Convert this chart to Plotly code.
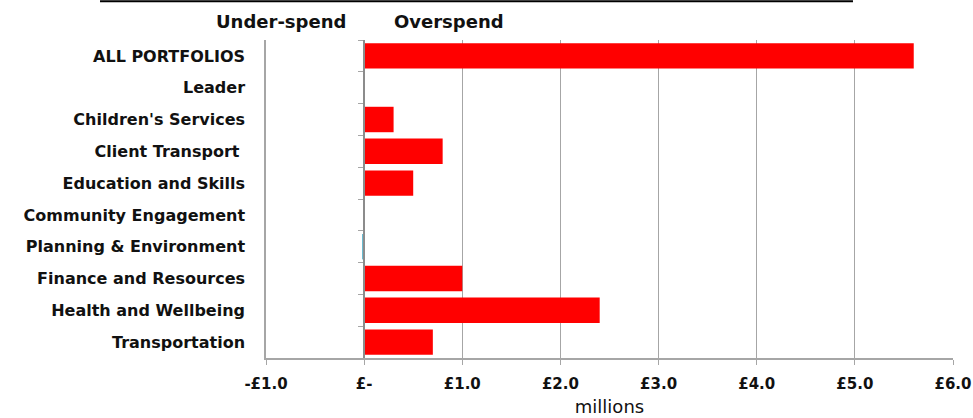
import plotly.graph_objects as go

categories = ["ALL PORTFOLIOS", "Leader", "Children's Services", "Client Transport ",
              "Education and Skills", "Community Engagement", "Planning & Environment",
              "Finance and Resources", "Health and Wellbeing", "Transportation"]
values = [5.6, 0.0, 0.3, 0.8, 0.5, 0.0, -0.02, 1.0, 2.4, 0.7]
tick_vals = [-1, 0, 1, 2, 3, 4, 5, 6]
tick_text = ["-£1.0", "£-", "£1.0", "£2.0", "£3.0", "£4.0", "£5.0", "£6.0"]

colors = ["#FF0000" if v >= 0 else "#4BACC6" for v in values]
FONT = "DejaVu Sans"
GRID = "#A6A6A6"
TXT = "#111111"

fig = go.Figure()
fig.add_trace(go.Bar(y=categories, x=values, orientation="h",
                     marker=dict(color=colors, line=dict(width=0)),
                     hoverinfo="skip", showlegend=False))
# invisible trace to carry the zero-crossing category axis ticks
fig.add_trace(go.Bar(y=categories, x=[0] * len(categories), orientation="h",
                     yaxis="y2", marker=dict(color="rgba(0,0,0,0)"),
                     hoverinfo="skip", showlegend=False))

fig.update_layout(
    width=973, height=418,
    margin=dict(l=266, r=20, t=40, b=60, autoexpand=False),
    paper_bgcolor="white", plot_bgcolor="white",
    bargap=0.2,
    xaxis=dict(range=[-1, 6], tickvals=tick_vals, ticktext=tick_text,
               showgrid=True, gridcolor=GRID, gridwidth=1,
               zeroline=False, showline=True, linecolor=GRID, linewidth=1.5,
               ticks="outside", ticklen=5, tickcolor=GRID, ticklabelstandoff=6,
               automargin=False,
               tickfont=dict(family=FONT, size=15, color=TXT, weight="bold"),
               title=dict(text="millions", font=dict(family=FONT, size=18, color=TXT),
                          standoff=9)),
    yaxis=dict(categoryorder="array", categoryarray=categories, autorange="reversed",
               showgrid=False, showline=True, linecolor=GRID, linewidth=1.5,
               ticks="", ticklabelstandoff=16, automargin=False,
               tickfont=dict(family=FONT, size=16, color=TXT, weight="bold")),
    yaxis2=dict(categoryorder="array", categoryarray=categories, autorange="reversed",
                overlaying="y", anchor="free", position=1/7, side="left",
                showticklabels=False, showgrid=False, showline=True,
                linecolor="#8C8C8C", linewidth=1.5, ticks="outside", ticklen=5,
                tickcolor=GRID, tickson="boundaries"),
    shapes=[dict(type="line", xref="paper", yref="paper",
                 x0=-0.2416, x1=0.8544, y0=1.122, y1=1.122,
                 line=dict(color="black", width=2))],
    annotations=[
        dict(text="Under-spend", x=-0.85, y=1.057, xref="x", yref="paper",
             xanchor="center", yanchor="middle", showarrow=False,
             font=dict(family=FONT, size=18, color=TXT, weight="bold")),
        dict(text="Overspend", x=0.86, y=1.057, xref="x", yref="paper",
             xanchor="center", yanchor="middle", showarrow=False,
             font=dict(family=FONT, size=18, color=TXT, weight="bold")),
    ],
)

fig.write_html("out.html", config={"displayModeBar": False},
               post_script="document.body.style.margin='0';")
